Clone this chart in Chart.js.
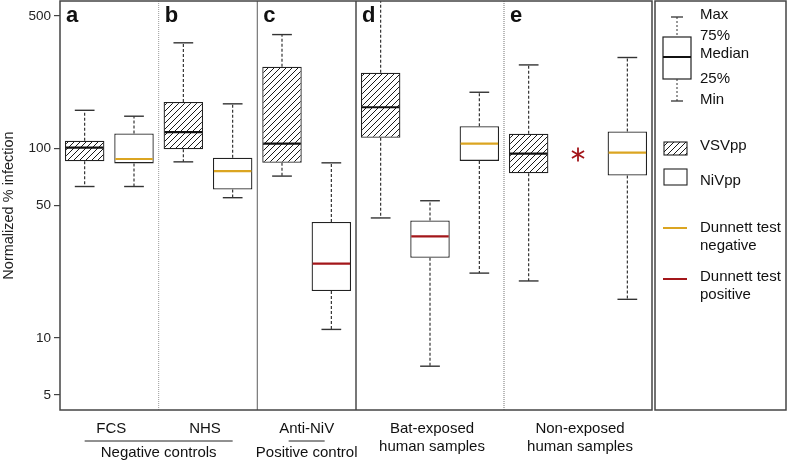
<!DOCTYPE html>
<html>
<head>
<meta charset="utf-8">
<script src="https://cdn.jsdelivr.net/npm/chart.js@4"></script>
<style>
html, body { margin: 0; padding: 0; background: #fff; }
#wrap { width: 788px; height: 462px; }
</style>
</head>
<body>
<div id="wrap"><canvas id="chart"></canvas></div>
<script>
// one slot per box, slot 10 only holds the Dunnett asterisk
const slots = ['FCS VSVpp', 'FCS NiVpp', 'NHS VSVpp', 'NHS NiVpp', 'Anti-NiV VSVpp', 'Anti-NiV NiVpp',
  'Bat VSVpp', 'Bat NiVpp +', 'Bat NiVpp -', 'Non VSVpp', 'Non test', 'Non NiVpp'];
const virus = ['VSVpp', 'NiVpp', 'VSVpp', 'NiVpp', 'VSVpp', 'NiVpp', 'VSVpp', 'NiVpp', 'NiVpp', 'VSVpp', null, 'NiVpp'];
const whiskerMin = [63, 63, 85, 55, 71.5, 11.1, 43, 7.1, 22, 20, null, 16];
const quart1 = [85.5, 83.4, 99, 60.7, 84, 17.7, 114, 26.5, 86, 74, null, 72];
const medians = [101, 88, 122, 76, 106, 24.7, 165, 34.4, 106, 94, null, 95];
const quart3 = [110, 120, 176, 89.4, 270, 40.9, 251, 41.7, 131, 119.5, null, 123];
const whiskerMax = [159, 148, 361, 172, 399, 84, 800, 53, 198, 276, null, 302];
const dunnett = [null, 'negative', null, 'negative', null, 'positive', null, 'positive', 'negative', null, null, 'negative'];
const starSlot = 10;
const starValue = 93;
const yTicks = [5, 10, 50, 100, 500];

const panelLetters = ['a', 'b', 'c', 'd', 'e'];
const panelStart = [0, 2, 4, 6, 9];

const FONT = '"Liberation Sans", Arial, Helvetica, sans-serif';
const GOLD = '#dba521';
const RED = '#a3161a';

function makeHatch(ctx) {
    const c = document.createElement('canvas');
    c.width = 6; c.height = 6;
    const g = c.getContext('2d');
    g.fillStyle = '#fff';
    g.fillRect(0, 0, 6, 6);
    g.strokeStyle = '#1a1a1a';
    g.lineWidth = 1;
    g.beginPath();
    g.moveTo(0, 6); g.lineTo(6, 0);
    g.moveTo(-1, 1); g.lineTo(1, -1);
    g.moveTo(5, 7); g.lineTo(7, 5);
    g.stroke();
    return ctx.createPattern(c, 'repeat');
}

const ctx = document.getElementById('chart').getContext('2d');
const hatch = makeHatch(ctx);

function text(c, s, x, y, size, align, weight) {
    c.font = (weight || 'normal') + ' ' + size + 'px ' + FONT;
    c.textAlign = align || 'center';
    c.textBaseline = 'middle';
    c.fillStyle = '#111';
    c.fillText(s, x, y);
}

function line(c, x1, y1, x2, y2, color, width, dash) {
    c.save();
    c.strokeStyle = color;
    c.lineWidth = width;
    c.setLineDash(dash || []);
    c.beginPath();
    c.moveTo(x1, y1);
    c.lineTo(x2, y2);
    c.stroke();
    c.restore();
}

const boxPlugin = {
    id: 'boxPlugin',
    beforeDatasetsDraw(chart) {
        const c = chart.ctx, x = chart.scales.x, a = chart.chartArea;
        const step = x.getPixelForValue(1) - x.getPixelForValue(0);
        // panel separators
        const seps = [
            [2, '#9a9a9a', 1, [1, 1]],
            [4, '#777', 1.2, []],
            [6, '#555', 1.6, []],
            [9, '#8a8a8a', 1.2, [1, 1]]
        ];
        seps.forEach(([i, col, w, d]) => {
            const px = x.getPixelForValue(i) - step / 2;
            line(c, px, a.top, px, a.bottom, col, w, d);
        });
    },
    afterDatasetsDraw(chart) {
        const c = chart.ctx, x = chart.scales.x, y = chart.scales.y, a = chart.chartArea;
        const meta = chart.getDatasetMeta(0);
        c.save();
        c.beginPath();
        c.rect(a.left, a.top, a.right - a.left, a.bottom - a.top);
        c.clip();
        slots.forEach((s, i) => {
            if (medians[i] == null) return;
            const bar = meta.data[i];
            const cx = x.getPixelForValue(i);
            const half = bar.width / 2;
            const cap = half / 2;
            const pMin = y.getPixelForValue(whiskerMin[i]);
            const pQ1 = y.getPixelForValue(quart1[i]);
            const pQ3 = y.getPixelForValue(quart3[i]);
            const pMax = y.getPixelForValue(whiskerMax[i]);
            const pMed = y.getPixelForValue(medians[i]);
            line(c, cx, pQ3, cx, pMax, '#222', 1.1, [3, 2]);
            line(c, cx, pQ1, cx, pMin, '#222', 1.1, [3, 2]);
            line(c, cx - cap, pMax, cx + cap, pMax, '#333', 1.4);
            line(c, cx - cap, pMin, cx + cap, pMin, '#333', 1.4);
            const col = dunnett[i] === 'negative' ? GOLD : dunnett[i] === 'positive' ? RED : '#111';
            line(c, cx - half + 1, pMed, cx + half - 1, pMed, col, 2.2);
        });
        c.restore();
        // Dunnett asterisk, six arms
        const sx = x.getPixelForValue(starSlot), sy = y.getPixelForValue(starValue);
        const r = 7;
        [90, 30, -30].forEach(deg => {
            const t = deg * Math.PI / 180;
            line(c, sx - r * Math.cos(t), sy - r * Math.sin(t), sx + r * Math.cos(t), sy + r * Math.sin(t), RED, 1.8);
        });
    },
    afterDraw(chart) {
        const c = chart.ctx, x = chart.scales.x, a = chart.chartArea;
        const step = x.getPixelForValue(1) - x.getPixelForValue(0);
        // frame
        c.save();
        c.strokeStyle = '#444';
        c.lineWidth = 1.5;
        c.strokeRect(a.left, a.top, a.right - a.left, a.bottom - a.top);
        c.restore();
        // panel letters
        panelLetters.forEach((l, k) => {
            const px = x.getPixelForValue(panelStart[k]) - step / 2 + 6;
            text(c, l, px, a.top + 15, 22, 'left', 'bold');
        });
        // group labels under the axis
        const mid = (i, j) => (x.getPixelForValue(i) + x.getPixelForValue(j)) / 2;
        const fs = 15;
        text(c, 'FCS', mid(0, 1) + 2, 429, fs);
        text(c, 'NHS', mid(2, 3) - 3, 429, fs);
        line(c, x.getPixelForValue(0), 441, x.getPixelForValue(3), 441, '#222', 1);
        text(c, 'Negative controls', mid(0, 3), 453, fs);
        text(c, 'Anti-NiV', mid(4, 5), 429, fs);
        line(c, mid(4, 5) - 18, 441, mid(4, 5) + 18, 441, '#222', 1);
        text(c, 'Positive control', mid(4, 5), 453, fs);
        text(c, 'Bat-exposed', x.getPixelForValue(7) + 2, 429, fs);
        text(c, 'human samples', x.getPixelForValue(7) + 2, 447, fs);
        text(c, 'Non-exposed', x.getPixelForValue(10) + 2, 429, fs);
        text(c, 'human samples', x.getPixelForValue(10) + 2, 447, fs);

        // legend panel
        const L = a.right + 3;
        c.save();
        c.strokeStyle = '#444';
        c.lineWidth = 1.5;
        c.strokeRect(L, a.top, 786 - L, a.bottom - a.top);
        c.restore();
        const ix = L + 22;
        line(c, ix - 6, 17, ix + 6, 17, '#333', 1.3);
        line(c, ix, 17, ix, 37, '#333', 1, [2, 2]);
        c.save();
        c.strokeStyle = '#222';
        c.lineWidth = 1.2;
        c.strokeRect(ix - 14, 37, 28, 42);
        c.restore();
        line(c, ix - 14, 57, ix + 14, 57, '#111', 2);
        line(c, ix, 79, ix, 101, '#333', 1, [2, 2]);
        line(c, ix - 6, 101, ix + 6, 101, '#333', 1.3);
        const tx = L + 45;
        text(c, 'Max', tx, 15, fs, 'left');
        text(c, '75%', tx, 36, fs, 'left');
        text(c, 'Median', tx, 54, fs, 'left');
        text(c, '25%', tx, 79, fs, 'left');
        text(c, 'Min', tx, 100, fs, 'left');

        c.save();
        c.fillStyle = hatch;
        c.fillRect(ix - 13, 142, 23, 13);
        c.strokeStyle = '#222';
        c.lineWidth = 1.1;
        c.strokeRect(ix - 13, 142, 23, 13);
        c.fillStyle = '#fff';
        c.fillRect(ix - 13, 169, 23, 16);
        c.strokeRect(ix - 13, 169, 23, 16);
        c.restore();
        text(c, 'VSVpp', tx, 146, fs, 'left');
        text(c, 'NiVpp', tx, 181, fs, 'left');

        line(c, ix - 14, 228, ix + 10, 228, GOLD, 2);
        text(c, 'Dunnett test', tx, 228, fs, 'left');
        text(c, 'negative', tx, 246, fs, 'left');
        line(c, ix - 14, 279, ix + 10, 279, RED, 2);
        text(c, 'Dunnett test', tx, 277, fs, 'left');
        text(c, 'positive', tx, 295, fs, 'left');
    }
};

new Chart(ctx, {
    type: 'bar',
    data: {
        labels: slots,
        datasets: [{
            data: quart1.map((q, i) => q == null ? null : [q, quart3[i]]),
            backgroundColor: virus.map(v => v === 'VSVpp' ? hatch : '#fff'),
            borderColor: '#222',
            borderWidth: 1.3,
            borderSkipped: false,
            barPercentage: 0.8,
            categoryPercentage: 1
        }]
    },
    options: {
        responsive: true,
        maintainAspectRatio: false,
        animation: false,
        layout: { padding: { top: 1, right: 136, left: 0, bottom: 0 } },
        plugins: { legend: { display: false }, tooltip: { enabled: false } },
        scales: {
            x: {
                type: 'category',
                offset: true,
                grid: { display: false },
                border: { display: false },
                ticks: { display: false },
                afterFit: s => { s.height = 52; s.paddingLeft = 0; s.paddingRight = 0; }
            },
            y: {
                type: 'logarithmic',
                min: 4.17,
                max: 600,
                afterBuildTicks: s => { s.ticks = yTicks.map(v => ({ value: v })); },
                ticks: {
                    callback: v => String(v),
                    color: '#222',
                    font: { size: 13.5, family: FONT },
                    padding: 3
                },
                grid: { drawOnChartArea: false, tickLength: 6, color: '#444', lineWidth: 1.2 },
                border: { display: false },
                title: {
                    display: true,
                    text: 'Normalized % infection',
                    color: '#222',
                    font: { size: 14.5, family: FONT },
                    padding: 0
                },
                afterFit: s => { s.width = 60; s.paddingTop = 0; s.paddingBottom = 0; }
            }
        }
    },
    plugins: [boxPlugin]
});
</script>
</body>
</html>
